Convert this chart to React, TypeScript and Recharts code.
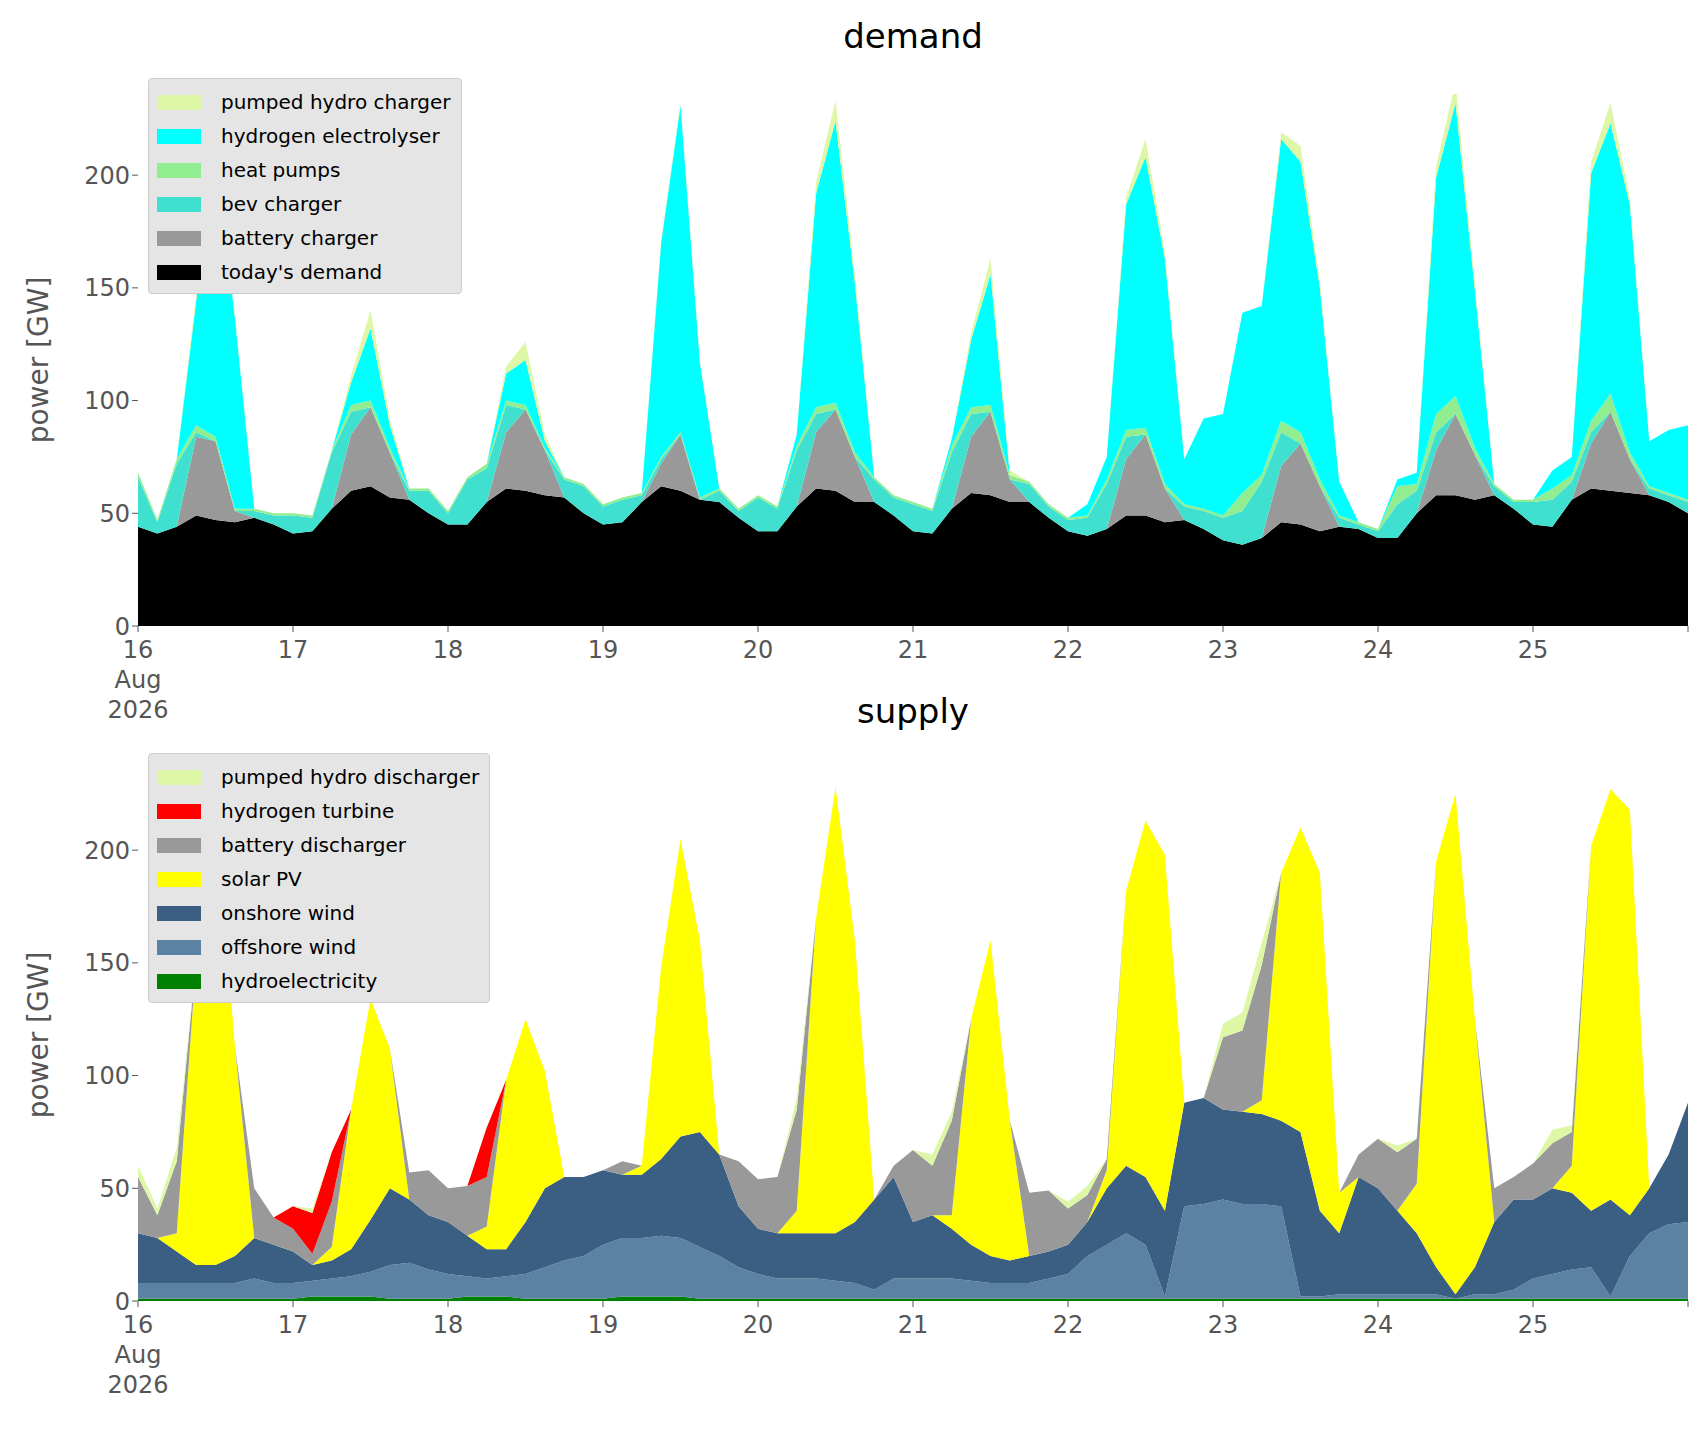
import { Area, AreaChart, XAxis, YAxis } from "recharts";

// 3-hourly values, Aug 16 00:00 .. Aug 26 00:00 (81 points), GW per layer
const todaysDemand = [
  44, 41, 44, 49, 47, 46, 48, 45,
  41, 42, 52, 60, 62, 57, 56, 50,
  45, 45, 55, 61, 60, 58, 57, 50,
  45, 46, 55, 62, 60, 56, 55, 48,
  42, 42, 53, 61, 60, 55, 55, 49,
  42, 41, 52, 59, 58, 55, 55, 48,
  42, 40, 43, 49, 49, 46, 47, 43,
  38, 36, 39, 46, 45, 42, 44, 43,
  39, 39, 50, 58, 58, 56, 58, 52,
  45, 44, 56, 61, 60, 59, 58, 55,
  50,
];
const batteryCharger = [
  0, 0, 0, 35, 35, 5, 0, 0,
  0, 0, 0, 25, 35, 20, 0, 0,
  0, 0, 0, 25, 36, 20, 0, 0,
  0, 0, 0, 10, 25, 0, 0, 0,
  0, 0, 0, 25, 36, 20, 0, 0,
  0, 0, 0, 25, 37, 10, 0, 0,
  0, 0, 0, 25, 36, 15, 0, 0,
  0, 0, 0, 25, 36, 20, 0, 0,
  0, 0, 0, 20, 36, 20, 0, 0,
  0, 0, 0, 20, 35, 15, 0, 0,
  0,
];
const bevCharger = [
  22, 5, 28, 2, 0, 0, 3, 4,
  8, 6, 25, 10, 0, 0, 4, 10,
  5, 20, 15, 12, 0, 0, 8, 12,
  8, 10, 3, 2, 0, 0, 5, 3,
  15, 10, 25, 8, 0, 0, 10, 8,
  12, 10, 25, 10, 0, 0, 8, 5,
  5, 8, 20, 10, 0, 0, 6, 8,
  10, 15, 25, 15, 0, 0, 4, 2,
  3, 15, 10, 8, 0, 0, 4, 3,
  10, 12, 8, 5, 0, 0, 3, 3,
  5,
];
const heatPumps = [
  2, 1, 2, 3, 2, 1, 1, 1,
  1, 1, 1, 3, 3, 2, 1, 1,
  1, 1, 2, 2, 2, 1, 1, 1,
  1, 1, 1, 1, 1, 1, 1, 1,
  1, 1, 2, 3, 3, 2, 1, 1,
  1, 1, 3, 3, 3, 2, 1, 1,
  1, 1, 2, 3, 3, 2, 1, 1,
  1, 8, 3, 5, 5, 3, 1, 1,
  1, 8, 3, 8, 8, 3, 1, 1,
  1, 5, 3, 5, 8, 3, 1, 1,
  1,
];
const hydrogenElectrolyser = [
  0, 0, 0, 55, 128, 85, 0, 0,
  0, 0, 0, 10, 32, 10, 0, 0,
  0, 0, 0, 12, 20, 3, 0, 0,
  0, 0, 0, 95, 145, 60, 0, 0,
  0, 0, 5, 95, 125, 75, 0, 0,
  0, 0, 3, 30, 58, 0, 0, 0,
  0, 5, 10, 100, 120, 100, 20, 40,
  45, 80, 75, 125, 120, 85, 15, 0,
  0, 3, 5, 105, 130, 70, 0, 0,
  0, 8, 8, 110, 120, 110, 20, 28,
  33,
];
const pumpedHydroCharger = [
  0, 0, 0, 3, 3, 2, 0, 0,
  0, 0, 0, 3, 8, 3, 0, 0,
  0, 0, 0, 3, 8, 3, 0, 0,
  0, 0, 0, 1, 1, 1, 0, 0,
  0, 0, 0, 5, 9, 4, 0, 0,
  0, 0, 0, 3, 7, 2, 0, 0,
  0, 0, 0, 3, 8, 3, 0, 0,
  0, 0, 0, 3, 7, 3, 0, 0,
  0, 0, 0, 5, 9, 3, 0, 0,
  0, 0, 0, 5, 9, 3, 0, 0,
  0,
];

const hydroelectricity = [
  1, 1, 1, 1, 1, 1, 1, 1,
  1, 2, 2, 2, 2, 1, 1, 1,
  1, 2, 2, 2, 1, 1, 1, 1,
  1, 2, 2, 2, 2, 1, 1, 1,
  1, 1, 1, 1, 1, 1, 1, 1,
  1, 1, 1, 1, 1, 1, 1, 1,
  1, 1, 1, 1, 1, 1, 1, 1,
  1, 1, 1, 1, 1, 1, 1, 1,
  1, 1, 1, 1, 1, 1, 1, 1,
  1, 1, 1, 1, 1, 1, 1, 1,
  1,
];
const offshoreWind = [
  7, 7, 7, 7, 7, 7, 9, 7,
  7, 7, 8, 9, 11, 15, 16, 13,
  11, 9, 8, 9, 11, 14, 17, 19,
  24, 26, 26, 27, 26, 23, 19, 14,
  11, 9, 9, 9, 8, 7, 4, 9,
  9, 9, 9, 8, 7, 7, 7, 9,
  11, 19, 24, 29, 24, 1, 41, 42,
  44, 42, 42, 41, 1, 1, 2, 2,
  2, 2, 2, 2, 0, 2, 2, 4,
  9, 11, 13, 14, 1, 19, 29, 33,
  34,
];
const onshoreWind = [
  22, 20, 14, 8, 8, 12, 18, 17,
  14, 7, 8, 12, 23, 34, 28, 24,
  23, 18, 13, 12, 23, 35, 37, 35,
  33, 28, 28, 34, 45, 51, 45, 27,
  20, 20, 20, 20, 21, 27, 40, 45,
  25, 28, 22, 16, 12, 10, 12, 12,
  13, 15, 25, 30, 30, 38, 46, 47,
  40, 41, 40, 38, 73, 38, 27, 52,
  47, 37, 27, 12, 2, 12, 32, 40,
  35, 38, 34, 25, 43, 18, 20, 31,
  53,
];
const solarPV = [
  0, 0, 8, 135, 205, 93, 0, 0,
  0, 0, 6, 62, 98, 62, 0, 0,
  0, 0, 10, 75, 90, 52, 0, 0,
  0, 0, 4, 85, 132, 85, 0, 0,
  0, 0, 10, 140, 198, 125, 0, 0,
  0, 0, 6, 100, 140, 62, 0, 0,
  0, 0, 8, 122, 158, 158, 0, 0,
  0, 0, 6, 110, 135, 150, 18, 0,
  0, 0, 22, 180, 222, 110, 0, 0,
  0, 0, 12, 162, 182, 180, 0, 0,
  0,
];
const batteryDischarger = [
  25, 10, 32, 0, 0, 0, 22, 12,
  10, 5, 20, 0, 0, 0, 12, 20,
  15, 22, 22, 0, 0, 0, 0, 0,
  0, 6, 0, 0, 0, 0, 0, 20,
  22, 25, 45, 0, 0, 0, 0, 5,
  32, 22, 42, 0, 0, 0, 28, 27,
  16, 12, 5, 0, 0, 0, 0, 0,
  32, 36, 60, 0, 0, 0, 0, 10,
  22, 26, 20, 0, 0, 0, 15, 10,
  16, 20, 15, 0, 0, 0, 0, 0,
  0,
];
const hydrogenTurbine = [
  0, 0, 0, 0, 0, 0, 0, 0,
  10, 18, 22, 0, 0, 0, 0, 0,
  0, 0, 22, 0, 0, 0, 0, 0,
  0, 0, 0, 0, 0, 0, 0, 0,
  0, 0, 0, 0, 0, 0, 0, 0,
  0, 0, 0, 0, 0, 0, 0, 0,
  0, 0, 0, 0, 0, 0, 0, 0,
  0, 0, 0, 0, 0, 0, 0, 0,
  0, 0, 0, 0, 0, 0, 0, 0,
  0, 0, 0, 0, 0, 0, 0, 0,
  0,
];
const pumpedHydroDischarger = [
  5, 3, 6, 0, 0, 0, 0, 0,
  0, 2, 0, 0, 0, 0, 0, 0,
  0, 0, 0, 0, 0, 0, 0, 0,
  0, 0, 0, 0, 0, 0, 0, 0,
  0, 0, 5, 0, 0, 0, 0, 0,
  0, 5, 4, 0, 0, 0, 0, 0,
  3, 4, 0, 0, 0, 0, 0, 0,
  6, 8, 10, 0, 0, 0, 0, 0,
  0, 3, 0, 0, 0, 0, 0, 0,
  0, 6, 3, 0, 0, 0, 0, 0,
  0,
];

const dayTicks = [16, 17, 18, 19, 20, 21, 22, 23, 24, 25, 26];
const powerTicks = [0, 50, 100, 150, 200];

const demandLayers = [
  { key: "demand", name: "today's demand", values: todaysDemand, color: "#000000" },
  { key: "battery", name: "battery charger", values: batteryCharger, color: "#999999" },
  { key: "bev", name: "bev charger", values: bevCharger, color: "#40e0d0" },
  { key: "heat", name: "heat pumps", values: heatPumps, color: "#90ee90" },
  { key: "h2", name: "hydrogen electrolyser", values: hydrogenElectrolyser, color: "#00ffff" },
  { key: "ph", name: "pumped hydro charger", values: pumpedHydroCharger, color: "#ddf7a6" },
];
const supplyLayers = [
  { key: "hydro", name: "hydroelectricity", values: hydroelectricity, color: "#008000" },
  { key: "off", name: "offshore wind", values: offshoreWind, color: "#5b81a3" },
  { key: "on", name: "onshore wind", values: onshoreWind, color: "#3a5f82" },
  { key: "pv", name: "solar PV", values: solarPV, color: "#ffff00" },
  { key: "bat", name: "battery discharger", values: batteryDischarger, color: "#999999" },
  { key: "h2t", name: "hydrogen turbine", values: hydrogenTurbine, color: "#ff0000" },
  { key: "ph", name: "pumped hydro discharger", values: pumpedHydroDischarger, color: "#ddf7a6" },
];

type Layer = { key: string; name: string; values: number[]; color: string };

function buildRows(layers: Layer[]) {
  return todaysDemand.map((_, i) => {
    const row: Record<string, number> = { t: 16 + i / 8 };
    layers.forEach((l) => (row[l.key] = l.values[i]));
    return row;
  });
}

const FONT = "DejaVu Sans, sans-serif";

function DayTick(props: any) {
  const { x, y, payload } = props;
  const v = payload.value;
  if (v === 26) return null;
  return (
    <text x={x} y={y + 24} textAnchor="middle" fill="#555" fontSize={24} fontFamily={FONT}>
      <tspan x={x}>{v}</tspan>
      {v === 16 && (
        <>
          <tspan x={x} dy={30}>Aug</tspan>
          <tspan x={x} dy={30}>2026</tspan>
        </>
      )}
    </text>
  );
}

function Panel({ title, layers, top }: { title: string; layers: Layer[]; top: number }) {
  const rows = buildRows(layers);
  return (
    <div style={{ position: "absolute", left: 0, top, width: 1706, height: 740 }}>
      <div
        style={{
          position: "absolute", left: 138, width: 1550, top: 16, textAlign: "center",
          fontSize: 34, fontFamily: FONT, color: "#000",
        }}
      >
        {title}
      </div>
      <div
        style={{
          position: "absolute", left: 38, top: 360, transform: "translate(-50%,-50%) rotate(-90deg)",
          fontSize: 28, fontFamily: FONT, color: "#555", whiteSpace: "nowrap",
        }}
      >
        power [GW]
      </div>
      <AreaChart width={1706} height={740} data={rows} margin={{ top: 94, right: 18, bottom: 0, left: 0 }}>
        <XAxis
          dataKey="t" type="number" domain={[16, 26]} ticks={dayTicks} interval={0}
          tick={<DayTick />} tickLine={{ stroke: "#555" }} tickSize={6} axisLine={false} height={114}
        />
        <YAxis
          type="number" domain={[0, 236]} ticks={powerTicks} allowDataOverflow
          tick={{ fill: "#555", fontSize: 24, fontFamily: FONT }} tickLine={{ stroke: "#555" }}
          axisLine={false} width={138} tickSize={6}
        />
        {layers.map((l) => (
          <Area
            key={l.key} dataKey={l.key} stackId="s" type="linear" fill={l.color} fillOpacity={1}
            stroke="none" isAnimationActive={false}
          />
        ))}
      </AreaChart>
      <div
        style={{
          position: "absolute", left: 148, top: 78, background: "#e5e5e5", border: "1px solid #ccc",
          borderRadius: 4, padding: "6px 10px 4px 8px", fontFamily: FONT, fontSize: 20, color: "#000",
        }}
      >
        {[...layers].reverse().map((l) => (
          <div key={l.key} style={{ display: "flex", alignItems: "center", height: 34 }}>
            <span style={{ width: 44, height: 15, background: l.color, marginRight: 20, display: "inline-block" }} />
            {l.name}
          </div>
        ))}
      </div>
    </div>
  );
}

export default function App() {
  return (
    <div style={{ position: "absolute", left: 0, top: 0, width: 1706, height: 1431, background: "#fff" }}>
      <Panel title="demand" layers={demandLayers} top={0} />
      <Panel title="supply" layers={supplyLayers} top={675} />
    </div>
  );
}
